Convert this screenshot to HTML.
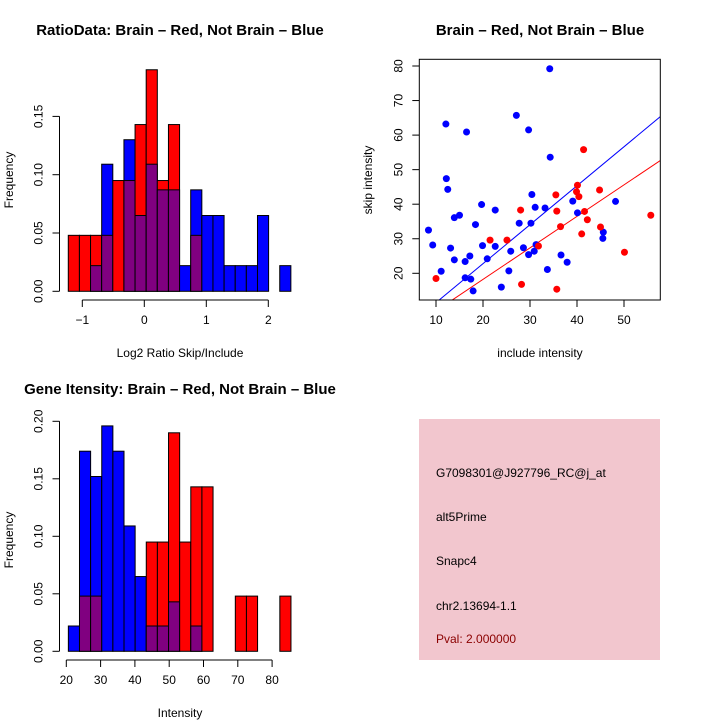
<!DOCTYPE html>
<html><head><meta charset="utf-8"><style>
html,body{margin:0;padding:0;background:#fff;}
svg{display:block;font-family:"Liberation Sans",sans-serif;}
</style></head><body>
<svg id="chart" width="720" height="720" viewBox="0 0 720 720" xmlns="http://www.w3.org/2000/svg">
<rect x="0" y="0" width="720" height="720" fill="#fff"/>
<g id="p1"></g>
<g id="p2"></g>
<g id="p3"></g>
<g>
<rect x="419" y="419" width="241" height="241" fill="#f2c6ce"/>
<text x="436" y="477" font-size="12">G7098301@J927796_RC@j_at</text>
<text x="436" y="521" font-size="12">alt5Prime</text>
<text x="436" y="565" font-size="12">Snapc4</text>
<text x="436" y="610" font-size="12">chr2.13694-1.1</text>
<text x="436" y="643" font-size="12" fill="#8b0000">Pval: 2.000000</text>
</g>
</svg>
<script>
// Histogram 1: log2 ratio
const ratioBinStart = -1.226;
const ratioBinWidth = 0.1795;
const ratioRed = [0.048,0.048,0.048,0.048,0.095,0.095,0.143,0.190,0.095,0.143,0,0.048,0,0,0,0,0,0,0,0];
const ratioBlue = [0,0,0.022,0.109,0,0.130,0.065,0.109,0.087,0.087,0.022,0.087,0.065,0.065,0.022,0.022,0.022,0.065,0,0.022];
const ratioXTicks = [-1,0,1,2];
const ratioYTicks = [0,0.05,0.10,0.15];
const ratioYLabels = ["0.00","0.05","0.10","0.15"];
// Histogram 2: gene intensity
const intBinStart = 20.6;
const intBinWidth = 3.245;
const intRed = [0,0.048,0.048,0,0,0,0,0.095,0.095,0.190,0.095,0.143,0.143,0,0,0.048,0.048,0,0,0.048];
const intBlue = [0.022,0.174,0.152,0.196,0.174,0.109,0.065,0.022,0.022,0.043,0,0.022,0,0,0,0,0,0,0,0];
const intXTicks = [20,30,40,50,60,70,80];
const intYTicks = [0,0.05,0.10,0.15,0.20];
const intYLabels = ["0.00","0.05","0.10","0.15","0.20"];
// Scatter
const blueX = [8.4,9.3,11.1,12.1,12.2,12.5,13.1,13.9,13.9,15.0,16.2,16.2,16.5,17.2,17.4,17.9,18.4,19.7,19.9,20.9,22.6,22.6,23.9,25.5,25.9,27.1,27.7,28.6,29.7,29.7,30.2,30.4,30.9,31.1,31.3,33.2,33.7,34.2,34.3,36.6,37.9,39.1,40.1,45.5,45.6,48.2];
const blueY = [32.5,28.2,20.6,63.2,47.4,44.3,27.3,36.1,23.9,36.8,23.4,18.7,60.9,25.0,18.3,14.9,34.1,39.9,28.0,24.2,38.3,27.8,16.0,20.7,26.4,65.7,34.5,27.4,61.5,25.4,34.5,42.8,26.4,39.1,28.3,38.9,21.1,79.2,53.6,25.3,23.2,40.9,37.5,30.1,31.9,40.8];
const redX = [10.0,21.5,25.1,28.0,28.2,31.8,35.5,35.7,35.7,36.5,39.9,40.1,40.4,41.0,41.4,41.6,42.2,44.8,45.0,50.1,55.7];
const redY = [18.5,29.6,29.6,38.3,16.8,27.9,42.7,38.0,15.4,33.5,43.6,45.5,42.2,31.4,55.8,37.9,35.5,44.1,33.4,26.1,36.8];
const fitSlope = [1.128,0.912];
const fitIntercept = [0.23,0.0];
const scXTicks = [10,20,30,40,50];
const scYTicks = [20,30,40,50,60,70,80];

const NS="http://www.w3.org/2000/svg";
function mk(parent,tag,attrs){const e=document.createElementNS(NS,tag);for(const k in attrs)e.setAttribute(k,attrs[k]);parent.appendChild(e);return e;}

function histogram(g,o){
  const xs=v=>o.x0px+(v-o.x0)*o.xs;
  const ys=v=>o.y0px-v*o.ys;
  for(let i=0;i<o.red.length;i++){
    const a=o.binStart+i*o.binW,b=a+o.binW;
    const r=o.red[i],bl=o.blue[i];
    const hi=Math.max(r,bl),lo=Math.min(r,bl);
    if(hi>0){
      const e=mk(g,'rect',{x:xs(a),y:ys(hi),width:xs(b)-xs(a),height:ys(0)-ys(hi),fill:r>=bl?'#ff0000':'#0000ff',stroke:'#000','stroke-width':1});
      
      
    }
    if(lo>0){
      const e=mk(g,'rect',{x:xs(a),y:ys(lo),width:xs(b)-xs(a),height:ys(0)-ys(lo),fill:'#800080',stroke:'#000','stroke-width':1});
      
      
    }
  }
  const ax=mk(g,'line',{x1:xs(o.xt[0]),x2:xs(o.xt[o.xt.length-1]),y1:o.xAxisY,y2:o.xAxisY,stroke:'#000'});
  
  
  o.xt.forEach(t=>{
    mk(g,'line',{x1:xs(t),x2:xs(t),y1:o.xAxisY,y2:o.xAxisY+7,stroke:'#000'});
    const tx=mk(g,'text',{x:xs(t),y:o.xAxisY+24,'font-size':12,'text-anchor':'middle'});
    tx.textContent=String(t).replace('-','\u2212');
    
    
  });
  const ay=mk(g,'line',{x1:o.yAxisX,x2:o.yAxisX,y1:ys(o.yt[0]),y2:ys(o.yt[o.yt.length-1]),stroke:'#000'});
  
  
  o.yt.forEach((t,i)=>{
    mk(g,'line',{x1:o.yAxisX-7,x2:o.yAxisX,y1:ys(t),y2:ys(t),stroke:'#000'});
    const tx=mk(g,'text',{x:0,y:0,'font-size':12,'text-anchor':'middle',transform:`translate(${o.yAxisX-17},${ys(t)}) rotate(-90)`});
    tx.textContent=o.yl[i];
    
    
  });
  const tt=mk(g,'text',{x:o.titleX,y:o.titleY,'font-size':15,'font-weight':'bold','text-anchor':'middle'});
  tt.textContent=o.title;
  
  
  const xl=mk(g,'text',{x:o.xLabelX,y:o.xLabelY,'font-size':12,'text-anchor':'middle'});
  xl.textContent=o.xLabel;
  
  
  const yl=mk(g,'text',{x:0,y:0,'font-size':12,'text-anchor':'middle',transform:`translate(13,${o.yLabelY}) rotate(-90)`});
  yl.textContent='Frequency';
  
  
}

histogram(document.getElementById('p1'),{x0:0,x0px:144.3,xs:62,y0px:291.3,ys:1166,binStart:ratioBinStart,binW:ratioBinWidth,red:ratioRed,blue:ratioBlue,xt:ratioXTicks,yt:ratioYTicks,yl:ratioYLabels,xAxisY:300,yAxisX:59.5,title:'RatioData: Brain \u2013 Red, Not Brain \u2013 Blue',titleX:180,titleY:35,xLabel:'Log2 Ratio Skip/Include',xLabelX:180,xLabelY:357,yLabelY:180});
histogram(document.getElementById('p3'),{x0:20,x0px:66.3,xs:3.43,y0px:651.3,ys:1150,binStart:intBinStart,binW:intBinWidth,red:intRed,blue:intBlue,xt:intXTicks,yt:intYTicks,yl:intYLabels,xAxisY:660,yAxisX:59.5,title:'Gene Itensity: Brain \u2013 Red, Not Brain \u2013 Blue',titleX:180,titleY:394,xLabel:'Intensity',xLabelX:180,xLabelY:717,yLabelY:540});

(function(){
  const g=document.getElementById('p2');
  const L=419.3,R=660.3,T=59.3,B=300;
  const xs=v=>436+(v-10)*4.7;
  const ys=v=>273.3-(v-20)*3.455;
  const inv=px=>10+(px-436)/4.7;
  const defs=mk(g,'defs',{});
  const cp=mk(defs,'clipPath',{id:'sc'});
  mk(cp,'rect',{x:L,y:T,width:R-L,height:B-T});
  const cols=['#0000ff','#ff0000'];
  fitSlope.forEach((m,i)=>{
    const xa=inv(L),xb=inv(R);
    const ln=mk(g,'line',{x1:xs(xa),y1:ys(fitIntercept[i]+m*xa),x2:xs(xb),y2:ys(fitIntercept[i]+m*xb),stroke:cols[i],'stroke-width':1,'clip-path':'url(#sc)'});
    
    
  });
  blueX.forEach((x,i)=>{
    const c=mk(g,'circle',{cx:xs(x),cy:ys(blueY[i]),r:3.5,fill:'#0000ff'});
    
    
  });
  redX.forEach((x,i)=>{
    const c=mk(g,'circle',{cx:xs(x),cy:ys(redY[i]),r:3.5,fill:'#ff0000'});
    
    
  });
  const box=mk(g,'rect',{x:L,y:T,width:R-L,height:B-T,fill:'none',stroke:'#000'});
  
  
  scXTicks.forEach(t=>{
    mk(g,'line',{x1:xs(t),x2:xs(t),y1:B,y2:B+7,stroke:'#000'});
    const tx=mk(g,'text',{x:xs(t),y:B+24,'font-size':12,'text-anchor':'middle'});
    tx.textContent=t;
    
    
  });
  scYTicks.forEach(t=>{
    mk(g,'line',{x1:L-7,x2:L,y1:ys(t),y2:ys(t),stroke:'#000'});
    const tx=mk(g,'text',{x:0,y:0,'font-size':12,'text-anchor':'middle',transform:`translate(${L-17},${ys(t)}) rotate(-90)`});
    tx.textContent=t;
    
    
  });
  const tt=mk(g,'text',{x:540,y:35,'font-size':15,'font-weight':'bold','text-anchor':'middle'});
  tt.textContent='Brain \u2013 Red, Not Brain \u2013 Blue';
  
  
  const xl=mk(g,'text',{x:540,y:357,'font-size':12,'text-anchor':'middle'});
  xl.textContent='include intensity';
  
  
  const yl=mk(g,'text',{x:0,y:0,'font-size':12,'text-anchor':'middle',transform:'translate(372,180) rotate(-90)'});
  yl.textContent='skip intensity';
  
  
})();
</script>
</body></html>
